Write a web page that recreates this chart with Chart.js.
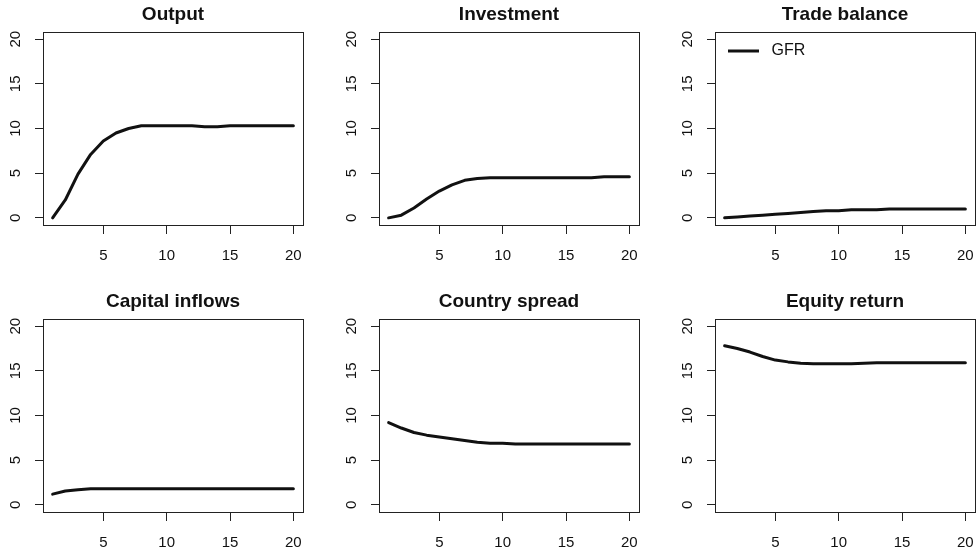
<!DOCTYPE html>
<html>
<head>
<meta charset="utf-8">
<script src="https://cdn.jsdelivr.net/npm/chart.js@4/dist/chart.umd.min.js"></script>
<style>
  html, body { margin: 0; padding: 0; background: #fff; }
  body { width: 979px; height: 554px; overflow: hidden; position: relative; }
  canvas { position: absolute; }
</style>
</head>
<body>
<canvas id="p0" width="336" height="287" style="left:0px;top:0px"></canvas>
<canvas id="p1" width="336" height="287" style="left:336px;top:0px"></canvas>
<canvas id="p2" width="336" height="287" style="left:672px;top:0px"></canvas>
<canvas id="p3" width="336" height="287" style="left:0px;top:287px"></canvas>
<canvas id="p4" width="336" height="287" style="left:336px;top:287px"></canvas>
<canvas id="p5" width="336" height="287" style="left:672px;top:287px"></canvas>
<script>
// periodos del impulso-respuesta
const periods = [1, 2, 3, 4, 5, 6, 7, 8, 9, 10, 11, 12, 13, 14, 15, 16, 17, 18, 19, 20];

const output         = [0, 2.0, 4.9, 7.1, 8.6, 9.5, 10.0, 10.3, 10.3, 10.3, 10.3, 10.3, 10.2, 10.2, 10.3, 10.3, 10.3, 10.3, 10.3, 10.3];
const investment     = [0, 0.3, 1.1, 2.1, 3.0, 3.7, 4.2, 4.4, 4.5, 4.5, 4.5, 4.5, 4.5, 4.5, 4.5, 4.5, 4.5, 4.6, 4.6, 4.6];
const tradeBalance   = [0, 0.1, 0.2, 0.3, 0.4, 0.5, 0.6, 0.7, 0.8, 0.8, 0.9, 0.9, 0.9, 1.0, 1.0, 1.0, 1.0, 1.0, 1.0, 1.0];
const capitalInflows = [1.2, 1.55, 1.7, 1.8, 1.8, 1.8, 1.8, 1.8, 1.8, 1.8, 1.8, 1.8, 1.8, 1.8, 1.8, 1.8, 1.8, 1.8, 1.8, 1.8];
const countrySpread  = [9.2, 8.6, 8.1, 7.8, 7.6, 7.4, 7.2, 7.0, 6.9, 6.9, 6.8, 6.8, 6.8, 6.8, 6.8, 6.8, 6.8, 6.8, 6.8, 6.8];
const equityReturn   = [17.8, 17.5, 17.1, 16.6, 16.2, 16.0, 15.85, 15.8, 15.8, 15.8, 15.8, 15.85, 15.9, 15.9, 15.9, 15.9, 15.9, 15.9, 15.9, 15.9];

const titles = ["Output", "Investment", "Trade balance", "Capital inflows", "Country spread", "Equity return"];
const series = [output, investment, tradeBalance, capitalInflows, countrySpread, equityReturn];
const xTicks = [5, 10, 15, 20];
const yTicks = [0, 5, 10, 15, 20];
const legendLabel = "GFR";

const FONT = "'Liberation Sans', Arial, Helvetica, sans-serif";
const INK = "#111";

// caja, titulo, etiquetas del eje y (giradas como en R) y leyenda
const panelDeco = {
  id: "panelDeco",
  afterDraw(chart, args, opts) {
    const { ctx, chartArea: a } = chart;
    const yScale = chart.scales.y;
    ctx.save();
    ctx.strokeStyle = "#222";
    ctx.lineWidth = 1;
    ctx.strokeRect(a.left + 0.5, a.top + 0.5, a.right - a.left, a.bottom - a.top);

    ctx.fillStyle = INK;
    ctx.textAlign = "center";
    ctx.textBaseline = "middle";
    ctx.font = "bold 19px " + FONT;
    ctx.fillText(opts.title, (a.left + a.right) / 2, a.top - 17.3);

    ctx.font = "15px " + FONT;
    yTicks.forEach(v => {
      const y = yScale.getPixelForValue(v);
      ctx.save();
      ctx.translate(a.left - 27.5, y);
      ctx.rotate(-Math.PI / 2);
      ctx.fillText(String(v), 0, 0);
      ctx.restore();
    });

    if (opts.legend) {
      const ly = a.top + 19;
      ctx.beginPath();
      ctx.lineWidth = 3;
      ctx.strokeStyle = INK;
      ctx.moveTo(a.left + 13, ly);
      ctx.lineTo(a.left + 44, ly);
      ctx.stroke();
      ctx.textAlign = "left";
      ctx.font = "16px " + FONT;
      ctx.fillText(opts.legend, a.left + 56.5, ly);
    }
    ctx.restore();
  }
};

function renderPanel(idx) {
  const ctx = document.getElementById("p" + idx).getContext("2d");
  const values = series[idx];
  new Chart(ctx, {
    type: "line",
    data: {
      datasets: [{
        label: legendLabel,
        data: periods.map((p, i) => ({ x: p, y: values[i] })),
        borderColor: INK,
        borderWidth: 3,
        pointRadius: 0,
        fill: false,
        tension: 0,
        borderJoinStyle: "round",
        borderCapStyle: "round"
      }]
    },
    options: {
      responsive: false,
      animation: false,
      events: [],
      layout: { padding: { left: 0, right: 33, top: 32, bottom: 0 } },
      plugins: {
        legend: { display: false },
        tooltip: { enabled: false },
        panelDeco: { title: titles[idx], legend: idx === 2 ? legendLabel : null }
      },
      scales: {
        x: {
          type: "linear",
          min: 0.24,
          max: 20.76,
          afterBuildTicks: s => { s.ticks = xTicks.map(v => ({ value: v })); },
          afterFit: s => { s.height = 62; },
          grid: { drawOnChartArea: false, drawTicks: true, tickLength: 9, color: "#222", lineWidth: 1 },
          border: { display: false },
          ticks: { color: INK, padding: 13, maxRotation: 0, font: { family: FONT, size: 15 } }
        },
        y: {
          type: "linear",
          min: -0.8,
          max: 20.8,
          afterBuildTicks: s => { s.ticks = yTicks.map(v => ({ value: v })); },
          afterFit: s => { s.width = 43; },
          grid: { drawOnChartArea: false, drawTicks: true, tickLength: 8, color: "#222", lineWidth: 1 },
          border: { display: false },
          ticks: { color: "rgba(0,0,0,0)", font: { family: FONT, size: 15 } }
        }
      }
    },
    plugins: [panelDeco]
  });
}

for (let i = 0; i < 6; i++) renderPanel(i);
</script>
</body>
</html>
